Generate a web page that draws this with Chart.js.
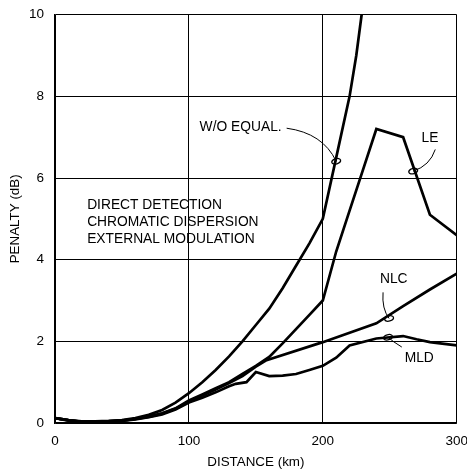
<!DOCTYPE html>
<html>
<head>
<meta charset="utf-8">
<script src="https://cdn.jsdelivr.net/npm/chart.js@4/dist/chart.umd.min.js"></script>
<style>
  html, body { margin: 0; padding: 0; background: #fff; }
  #wrap { width: 467px; height: 470px; }
</style>
</head>
<body>
<div id="wrap"><canvas id="graficoPenalty" width="467" height="470"></canvas></div>
<script>
// ---- dados (distância em km, penalidade em dB)

const woDist    = [0, 10, 20, 30, 40, 50, 60, 70, 80, 90, 100, 110, 120, 130, 140, 150, 160, 170, 180, 190, 200, 210, 220, 225, 229];
const woPenalty = [0.12, 0.07, 0.04, 0.04, 0.05, 0.07, 0.12, 0.2, 0.32, 0.5, 0.73, 1.0, 1.3, 1.63, 2.0, 2.4, 2.8, 3.3, 3.85, 4.4, 5.0, 6.5, 8.0, 9.0, 10.0];

const leDist    = [0, 10, 20, 30, 40, 50, 60, 70, 80, 90, 100, 110, 120, 130, 140, 150, 160, 170, 180, 190, 200, 210, 220, 230, 240, 260, 280, 300];
const lePenalty = [0.12, 0.07, 0.03, 0.03, 0.04, 0.06, 0.1, 0.16, 0.24, 0.36, 0.55, 0.7, 0.85, 1.0, 1.2, 1.4, 1.62, 1.95, 2.3, 2.65, 3.0, 4.2, 5.2, 6.2, 7.2, 7.0, 5.1, 4.6];

const nlcDist    = [0, 10, 20, 30, 40, 50, 60, 70, 80, 90, 100, 110, 120, 130, 140, 150, 158, 200, 240, 260, 280, 300];
const nlcPenalty = [0.12, 0.07, 0.03, 0.03, 0.04, 0.06, 0.1, 0.15, 0.23, 0.35, 0.52, 0.67, 0.82, 0.98, 1.15, 1.38, 1.54, 1.98, 2.44, 2.86, 3.27, 3.66];

const mldDist    = [0, 10, 20, 30, 40, 50, 60, 70, 80, 90, 100, 110, 120, 130, 135, 143, 150, 160, 170, 180, 190, 200, 210, 220, 240, 260, 270, 280, 300];
const mldPenalty = [0.12, 0.06, 0.03, 0.03, 0.03, 0.05, 0.09, 0.14, 0.21, 0.33, 0.5, 0.62, 0.75, 0.9, 0.96, 1.0, 1.25, 1.15, 1.16, 1.2, 1.3, 1.4, 1.6, 1.9, 2.07, 2.13, 2.05, 1.98, 1.9];

const xTicks = [0, 100, 200, 300];
const yTicks = [0, 2, 4, 6, 8, 10];

const textoCondicoes = ["DIRECT DETECTION", "CHROMATIC DISPERSION", "EXTERNAL MODULATION"];

// rótulos das curvas: texto, posição do texto, início da seta, posição da elipse (em km / dB)
const rotulos = [
    { texto: "W/O EQUAL.", tx: 108, ty: 7.24, align: "left",   sx: 173, sy: 7.22, ex: 210, ey: 6.41, cx: 200, cy: 7.1 },
    { texto: "LE",         tx: 280, ty: 6.97, align: "center", sx: 284, sy: 6.7,  ex: 267.5, ey: 6.17, cx: 280, cy: 6.3 },
    { texto: "NLC",        tx: 253, ty: 3.52, align: "center", sx: 245, sy: 3.2,  ex: 249.5, ey: 2.56, cx: 244, cy: 2.8 },
    { texto: "MLD",        tx: 272, ty: 1.59, align: "center", sx: 259, sy: 1.86, ex: 248.7, ey: 2.1,  cx: 252, cy: 2.0 }
];

const fonte = "'Liberation Sans', Arial, Helvetica, sans-serif";

function pares(xs, ys) {
    return xs.map((x, i) => ({ x: x, y: ys[i] }));
}

function serie(label, xs, ys) {
    return {
        label: label,
        data: pares(xs, ys),
        borderColor: '#000',
        borderWidth: 2.7,
        pointRadius: 0,
        tension: 0,
        fill: false
    };
}

// ---- plugin para textos, setas e elipses
const anotacoes = {
    id: 'anotacoes',
    afterDatasetsDraw(chart) {
        const ctx = chart.ctx;
        const xs = chart.scales.x;
        const ys = chart.scales.y;
        ctx.save();
        ctx.fillStyle = '#000';
        ctx.strokeStyle = '#000';
        ctx.font = "13.8px " + fonte;
        ctx.textBaseline = 'middle';

        // bloco de texto
        ctx.textAlign = 'left';
        const yLinhas = [5.33, 4.92, 4.5];
        textoCondicoes.forEach((t, i) => {
            ctx.fillText(t, xs.getPixelForValue(24), ys.getPixelForValue(yLinhas[i]));
        });

        rotulos.forEach(r => {
            ctx.textAlign = r.align;
            ctx.fillText(r.texto, xs.getPixelForValue(r.tx), ys.getPixelForValue(r.ty));

            const ex = xs.getPixelForValue(r.ex);
            const ey = ys.getPixelForValue(r.ey);
            ctx.lineWidth = 1;
            ctx.beginPath();
            ctx.moveTo(xs.getPixelForValue(r.sx), ys.getPixelForValue(r.sy));
            ctx.quadraticCurveTo(xs.getPixelForValue(r.cx), ys.getPixelForValue(r.cy), ex, ey);
            ctx.stroke();

            ctx.lineWidth = 1.3;
            ctx.beginPath();
            ctx.ellipse(ex, ey, 4.5, 2.6, -0.3, 0, Math.PI * 2);
            ctx.stroke();
        });
        ctx.restore();
    }
};

const ctx = document.getElementById('graficoPenalty').getContext('2d');
let graficoPenalty = new Chart(ctx, {
    type: 'line',
    data: {
        datasets: [
            serie('W/O EQUAL.', woDist, woPenalty),
            serie('LE', leDist, lePenalty),
            serie('NLC', nlcDist, nlcPenalty),
            serie('MLD', mldDist, mldPenalty)
        ]
    },
    options: {
        responsive: false,
        animation: false,
        layout: { padding: { top: 14.7, right: 10.3, bottom: 0, left: 0 } },
        plugins: {
            legend: { display: false },
            tooltip: { enabled: false }
        },
        scales: {
            x: {
                type: 'linear',
                min: 0,
                max: 300,
                afterFit(scale) {
                    scale.height = 47;
                    scale.paddingLeft = 0;
                    scale.paddingRight = 0;
                },
                afterBuildTicks(scale) { scale.ticks = xTicks.map(v => ({ value: v })); },
                grid: { color: '#000', lineWidth: 1, drawTicks: false },
                border: { color: '#000', width: 1.5 },
                ticks: { color: '#000', padding: 10, font: { family: fonte, size: 13.5 } },
                title: {
                    display: true,
                    text: 'DISTANCE (km)',
                    color: '#000',
                    padding: { top: 0, bottom: 0 },
                    font: { family: fonte, size: 13.4 }
                }
            },
            y: {
                min: 0,
                max: 10,
                afterFit(scale) {
                    scale.width = 55;
                    scale.paddingTop = 0;
                    scale.paddingBottom = 0;
                },
                afterBuildTicks(scale) { scale.ticks = yTicks.map(v => ({ value: v })); },
                grid: { color: '#000', lineWidth: 1, drawTicks: false },
                border: { color: '#000', width: 1.5 },
                ticks: { color: '#000', padding: 11, font: { family: fonte, size: 13.5 } },
                title: {
                    display: true,
                    text: 'PENALTY (dB)',
                    color: '#000',
                    padding: { top: 7, bottom: 0 },
                    font: { family: fonte, size: 13.4 }
                }
            }
        }
    },
    plugins: [anotacoes]
});
</script>
</body>
</html>
